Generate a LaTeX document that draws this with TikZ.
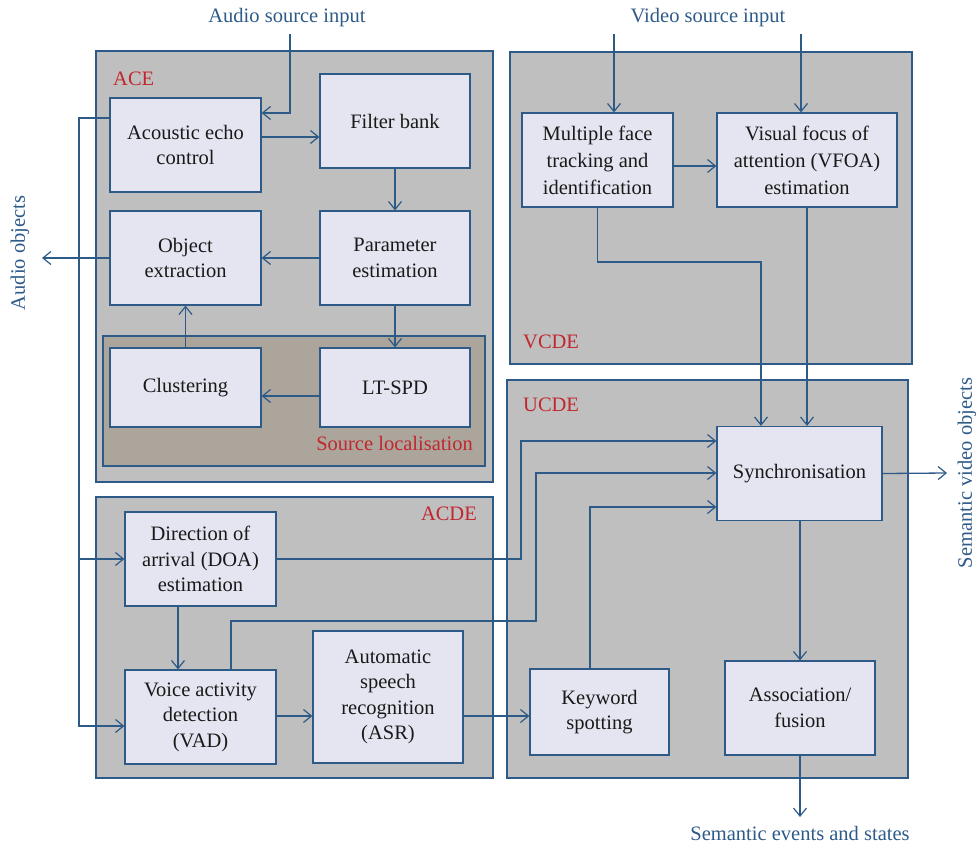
\documentclass[tikz,border=0pt]{standalone}
\usepackage{fontspec}
\setmainfont{Liberation Serif}
\usetikzlibrary{arrows.meta}
\definecolor{lblue}{HTML}{2E5A88}
\definecolor{cgray}{HTML}{BFBFBF}
\definecolor{sgray}{HTML}{ACA59C}
\definecolor{bfill}{HTML}{E5E5F1}
\definecolor{lred}{HTML}{C1272D}
\begin{document}
\begin{tikzpicture}[x=1pt,y=-1pt,
  font=\fontsize{20.5}{25.5}\selectfont,
  >={Straight Barb[length=8pt,width=13pt,line width=1.2pt]},
  cont/.style={draw=lblue,line width=1.2pt,fill=cgray},
  box/.style={draw=lblue,line width=1.2pt,fill=bfill,align=center,inner sep=0pt,text=black!90},
  conn/.style={draw=lblue,line width=1.3pt,->},
  clabel/.style={text=lred,inner sep=0pt},
  extlabel/.style={text=lblue,inner sep=0pt}]
\useasboundingbox (0,0) rectangle (979,846);
% containers
\path[cont] (96,51) rectangle (493,482);
\path[cont,fill=sgray] (103,336) rectangle (485,466);
\path[cont] (96,497) rectangle (493,778);
\path[cont] (510,52) rectangle (912,364);
\path[cont] (507,380) rectangle (908,778);
\node[clabel,anchor=west] (lace) at (113,79) {ACE};
\node[clabel,anchor=east] (lsl) at (473,443) {Source localisation};
\node[clabel,anchor=east] (lacde) at (477,514) {ACDE};
\node[clabel,anchor=west] (lvcde) at (523,342) {VCDE};
\node[clabel,anchor=west] (lucde) at (523,405) {UCDE};
% boxes
\node[box,minimum width=151,minimum height=94] (aec) at (185.5,145) {Acoustic echo\\control};
\node[box,minimum width=150,minimum height=94] (fb) at (395,121) {Filter bank};
\node[box,minimum width=151,minimum height=94] (oe) at (185.5,258) {Object\\extraction};
\node[box,minimum width=150,minimum height=94] (pe) at (395,258) {Parameter\\estimation};
\node[box,minimum width=151,minimum height=79] (cl) at (185.5,387.5) {Clustering};
\node[box,minimum width=150,minimum height=79] (lt) at (395,387.5) {LT-SPD};
\node[box,minimum width=151,minimum height=94] (doa) at (200.5,559) {Direction of\\arrival (DOA)\\estimation};
\node[box,minimum width=151,minimum height=94] (vad) at (200.5,717) {Voice activity\\detection\\(VAD)};
\node[box,minimum width=150,minimum height=132] (asr) at (388,697) {Automatic\\speech\\recognition\\(ASR)};
\node[box,minimum width=151,minimum height=94,font=\fontsize{20.5}{27}\selectfont] (mft) at (597.5,160) {Multiple face\\tracking and\\identification};
\node[box,minimum width=180,minimum height=94,font=\fontsize{20.5}{27}\selectfont] (vfoa) at (807,160) {Visual focus of\\attention (VFOA)\\estimation};
\node[box,minimum width=165,minimum height=94] (sync) at (799.5,473.5) {Synchronisation};
\node[box,minimum width=139,minimum height=86] (kw) at (599.5,712) {Keyword\\spotting};
\node[box,minimum width=150,minimum height=94] (af) at (800,708) {Association/\\fusion};
% external labels
\node[extlabel] (asi) at (287,18) {Audio source input};
\node[extlabel] (vsi) at (708,18) {Video source input};
\node[extlabel,rotate=90] (ao) at (20,253) {Audio objects};
\node[extlabel,rotate=90] (svo) at (967,473) {Semantic video objects};
\node[extlabel] (ses) at (800,833) {Semantic events and states};
\coordinate (aoend) at (42,258);
\coordinate (svoend) at (947,473);
\coordinate (sesend) at (800,817);
% connectors
\draw[conn] (290,34) |- (aec.east |- 0,113);
\draw[conn] (aec.east |- 0,137) -- (fb.west |- 0,137);
\draw[conn] (fb) -- (pe);
\draw[conn] (pe.west) -- (oe.east);
\draw[conn] (pe) -- (lt);
\draw[conn] (lt.west |- 0,396) -- (cl.east |- 0,396);
\draw[conn] (cl) -- (oe);
\draw[conn] (oe.west) -- (aoend);
\draw[conn] (aec.west |- 0,118) -| (79,726) -- (vad.west |- 0,726);
\draw[conn] (79,559) -- (doa.west);
\draw[conn] (doa.south -| 178,0) -- (vad.north -| 178,0);
\draw[conn] (doa.east) -| (521,441) -- (sync.west |- 0,441);
\draw[conn] (vad.north -| 231,0) |- (536,621) |- (sync.west |- 0,473);
\draw[conn] (vad.east |- 0,716) -- (asr.west |- 0,716);
\draw[conn] (asr.east |- 0,716) -- (kw.west |- 0,716);
\draw[conn] (kw.north -| 590,0) |- (sync.west |- 0,507);
\draw[conn] (mft.south) |- (761,262) -- (sync.north -| 761,0);
\draw[conn] (vfoa.south) -- (sync.north -| vfoa.south);
\draw[conn] (mft.east |- 0,166) -- (vfoa.west |- 0,166);
\draw[conn] (614,34) -- (mft.north -| 614,0);
\draw[conn] (801,34) -- (vfoa.north -| 801,0);
\draw[conn] (sync.east) -- (svoend);
\draw[conn] (sync.south -| af.north) -- (af.north);
\draw[conn] (af.south) -- (sesend);
\end{tikzpicture}
\end{document}
